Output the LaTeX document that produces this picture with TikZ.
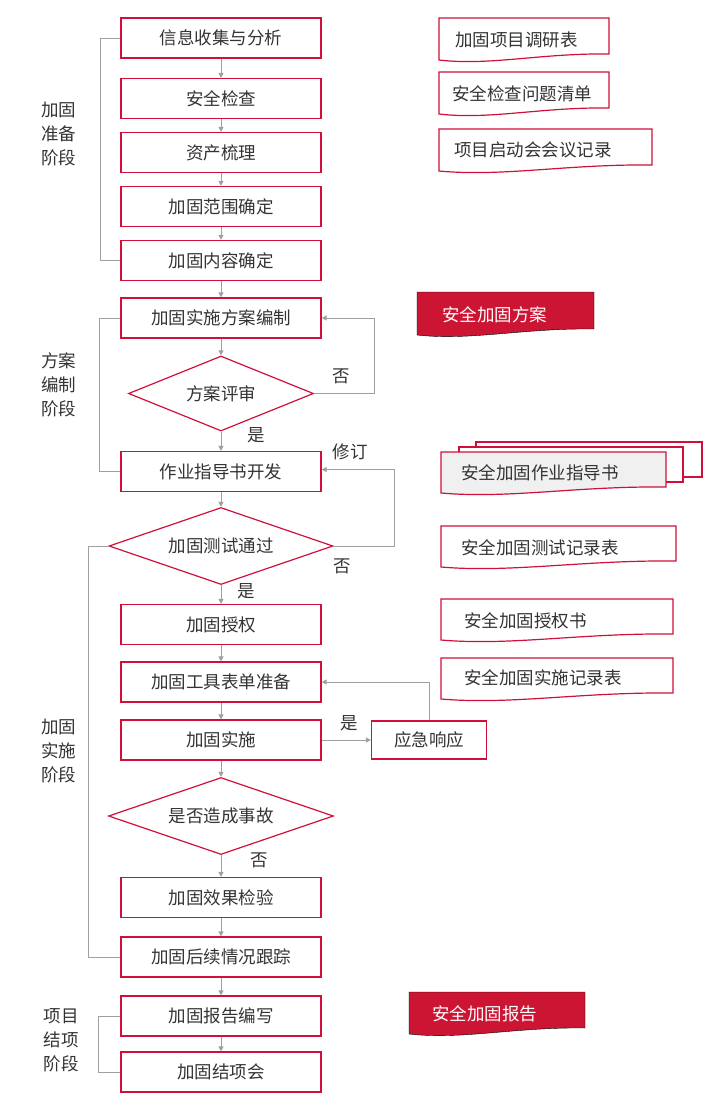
\documentclass[tikz,border=0pt]{standalone}
\usepackage{fontspec}
\setmainfont{Noto Sans CJK SC}
\usepackage{xcolor}
\usetikzlibrary{shapes.geometric,arrows.meta}
\definecolor{edgered}{HTML}{D0103A}
\definecolor{docred}{HTML}{CC1433}
\definecolor{linegray}{HTML}{A0A0A0}
\definecolor{txtgray}{HTML}{333333}
\definecolor{docgray}{HTML}{F0F0F0}
\tikzset{
  box/.style={draw=edgered,line width=1.2pt,minimum width=200pt,minimum height=40pt,inner sep=0pt,text=txtgray},
  check/.style={diamond,aspect=2.9,draw=edgered,line width=1.2pt,inner sep=0pt,text=txtgray},
  arr/.style={draw=linegray,line width=1pt,-{Triangle[length=5pt,width=5pt]}},
  link/.style={draw=linegray,line width=1pt},
  lbl/.style={text=txtgray,inner sep=0pt},
  stage/.style={text=txtgray,align=center,inner sep=0pt},
  paper/.style={draw=edgered,line width=1.2pt,fill=white},
  hotpaper/.style={fill=docred},
  doctext/.style={anchor=west,inner sep=0pt,text=txtgray},
}
% sheet with a wavy lower edge: [style]{left}{top}{right}{bottom}
\newcommand{\sheet}[5][paper]{\draw[#1] (#2,#3) -- (#4,#3) -- (#4,#5)
  .. controls ({#4-0.4*(#4-#2)},{#5-1}) and ({#2+0.3*(#4-#2)},{#5+12}) .. (#2,{#5+6}) -- cycle;}

\begin{document}
\begin{tikzpicture}[x=1pt,y=-1pt,font=\fontsize{17.5}{24}\selectfont]
    \useasboundingbox (0,0) rectangle (715,1114);

    % main column
    \node[box] (collect) at (221,38) {信息收集与分析};
    \node[box] (inspect) at (221,98.5) {安全检查};
    \node[box] (assets) at (221,152.5) {资产梳理};
    \node[box] (scope) at (221,206.5) {加固范围确定};
    \node[box] (content) at (221,260.5) {加固内容确定};
    \node[box] (plan) at (221,318) {加固实施方案编制};
    \node[check,aspect=2.45,minimum width=185pt,minimum height=75pt] (review) at (221,393.5) {方案评审};
    \node[box] (guide) at (221,471.5) {作业指导书开发};
    \node[check,minimum width=224pt,minimum height=77pt] (test) at (221,546) {加固测试通过};
    \node[box] (auth) at (221,624.5) {加固授权};
    \node[box] (tools) at (221,682) {加固工具表单准备};
    \node[box] (apply) at (221,740) {加固实施};
    \node[box,minimum width=115pt,minimum height=38pt] (emerg) at (429,740) {应急响应};
    \node[check,minimum width=225pt,minimum height=77pt] (accident) at (221,816) {是否造成事故};
    \node[box] (verify) at (221,897.5) {加固效果检验};
    \node[box] (track) at (221,957) {加固后续情况跟踪};
    \node[box] (report) at (221,1016) {加固报告编写};
    \node[box] (close) at (221,1072) {加固结项会};

    \draw[arr] (collect) -- (inspect);
    \draw[arr] (inspect) -- (assets);
    \draw[arr] (assets) -- (scope);
    \draw[arr] (scope) -- (content);
    \draw[arr] (content) -- (plan);
    \draw[arr] (plan) -- (review);
    \draw[arr] (review) -- (guide);
    \draw[arr] (guide) -- (test);
    \draw[arr] (test) -- (auth);
    \draw[arr] (auth) -- (tools);
    \draw[arr] (tools) -- (apply);
    \draw[arr] (apply) -- (accident);
    \draw[arr] (accident) -- (verify);
    \draw[arr] (verify) -- (track);
    \draw[arr] (track) -- (report);
    \draw[arr] (report) -- (close);
    \draw[arr] (apply) -- (emerg);

    % loops back
    \draw[arr] (review.east) -- ++(60,0) |- (plan.east);
    \draw[arr] (test.east) -- ++(61,0) |- ([yshift=2pt]guide.east);
    \draw[arr] (emerg.north) |- (tools.east);

    % stage brackets
    \draw[link] (collect.west) -- ++(-19.5,0) |- (content.west);
    \draw[link] (plan.west) -- ++(-21,0) |- (guide.west);
    \draw[link] (test.west) -- ++(-19.5,0) |- (track.west);
    \draw[link] (report.west) -- ++(-22,0) |- (close.west);

    % stage names
    \node[stage] (prep) at (59,134) {加固\\准备\\阶段};
    \node[stage] (draft) at (59,385) {方案\\编制\\阶段};
    \node[stage] (exec) at (59,751) {加固\\实施\\阶段};
    \node[stage] (finish) at (61,1040) {项目\\结项\\阶段};

    % branch labels
    \node[lbl] (no1) at (341,376) {否};
    \node[lbl] (yes1) at (256,435) {是};
    \node[lbl] (fix) at (350,452) {修订};
    \node[lbl] (no2) at (342,566) {否};
    \node[lbl] (yes2) at (246,591) {是};
    \node[lbl] (yes3) at (349,723) {是};
    \node[lbl] (no3) at (259,860) {否};

    % output documents
    \sheet{439}{18}{609}{54}
    \node[doctext] (survey) at (455,40) {加固项目调研表};
    \sheet{439}{72}{609}{108}
    \node[doctext] (issues) at (452,94) {安全检查问题清单};
    \sheet{439}{129}{652}{165}
    \node[doctext] (minutes) at (454,150) {项目启动会会议记录};
    \sheet[hotpaper]{417}{292}{594}{329}
    \node[doctext,text=white] (scheme) at (442,315) {安全加固方案};
    \draw[paper] (476,442) rectangle (702,477);
    \draw[paper] (459,447) rectangle (683,482);
    \sheet[paper,fill=docgray]{441}{452}{666}{487}
    \node[doctext] (manual) at (461,473) {安全加固作业指导书};
    \sheet{441}{526}{676}{561}
    \node[doctext] (testlog) at (461,548) {安全加固测试记录表};
    \sheet{441}{599}{673}{634}
    \node[doctext] (permit) at (464,621) {安全加固授权书};
    \sheet{441}{658}{673}{693}
    \node[doctext] (worklog) at (464,678) {安全加固实施记录表};
    \sheet[hotpaper]{409}{992}{585}{1028}
    \node[doctext,text=white] (final) at (432,1014) {安全加固报告};
\end{tikzpicture}
\end{document}
